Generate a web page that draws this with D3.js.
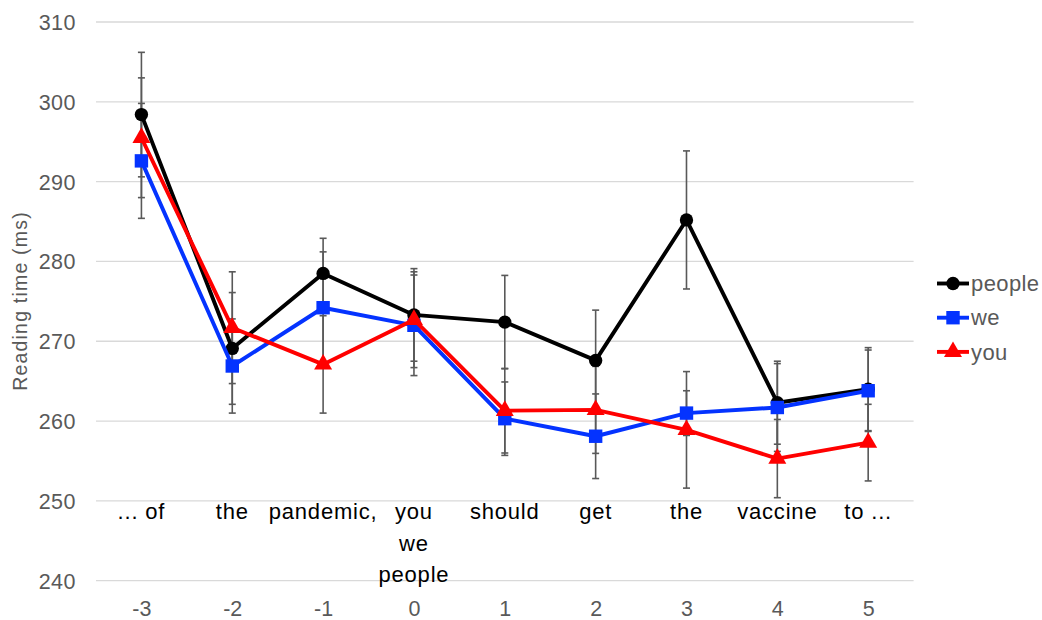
<!DOCTYPE html>
<html>
<head>
<meta charset="utf-8">
<script src="https://cdn.jsdelivr.net/npm/d3@7"></script>
<style>
  html, body { margin: 0; padding: 0; background: #ffffff; }
  svg { display: block; }
</style>
</head>
<body>
<svg id="chart" width="1042" height="620"></svg>
<script>
// ---- data ----
const positions = [-3, -2, -1, 0, 1, 2, 3, 4, 5];
const words = ["... of", "the", "pandemic,", "you", "should", "get", "the", "vaccine", "to ..."];
const extraWords = ["we", "people"]; // stacked under position 0
const seriesNames = ["people", "we", "you"];
const peopleValues = [298.4, 269.1, 278.5, 273.3, 272.4, 267.6, 285.2, 262.3, 264.0];
const weValues     = [292.6, 266.9, 274.2, 272.0, 260.3, 258.1, 261.0, 261.7, 263.8];
const youValues    = [295.5, 271.7, 267.1, 272.7, 261.3, 261.4, 258.9, 255.3, 257.3];
const peopleErrors = [7.8, 7.0, 4.4, 5.8, 5.85, 6.3, 8.65, 5.2, 5.2];
const weErrors     = [7.2, 5.9, 7.0, 6.3, 4.6, 5.3, 2.8, 5.5, 5.1];
const youErrors    = [7.5, 7.0, 6.1, 6.0, 5.3, 5.45, 7.3, 4.9, 4.8];
const yTicks = [240, 250, 260, 270, 280, 290, 300, 310];
const yTitle = "Reading time (ms)";

// ---- layout ----
const svg = d3.select("#chart");
const plot = { left: 96, right: 913.6, top: 22, bottom: 580.7 };
const colors = { people: "#000000", we: "#0433ff", you: "#ff0000" };
const gray = "#595959";
const font = "'Liberation Sans', Arial, sans-serif";

const x = d3.scalePoint().domain(positions).range([plot.left, plot.right]).padding(0.5);
const y = d3.scaleLinear().domain([240, 310]).range([plot.bottom, plot.top]);

// gridlines
svg.append("g").selectAll("line").data(yTicks).join("line")
  .attr("x1", plot.left).attr("x2", plot.right)
  .attr("y1", d => y(d)).attr("y2", d => y(d))
  .attr("stroke", "#d9d9d9").attr("stroke-width", 1.3);

// y axis labels
const yAxis = d3.axisLeft(y).tickValues(yTicks).tickSize(0).tickPadding(0);
const yg = svg.append("g").attr("transform", `translate(${76},0)`).call(yAxis);
yg.select(".domain").remove();
yg.selectAll("text").attr("font-family", font).attr("font-size", 21.5)
  .attr("fill", gray).attr("letter-spacing", 0.5).attr("dy", "0.35em");

// x axis labels (positions)
const xAxis = d3.axisBottom(x).tickSize(0).tickPadding(0);
const xg = svg.append("g").attr("transform", `translate(0,${600})`).call(xAxis);
xg.select(".domain").remove();
xg.selectAll("text").attr("font-family", font).attr("font-size", 21.5)
  .attr("fill", gray).attr("dy", "0.75em");

// y title
svg.append("text")
  .attr("transform", `translate(27,${301}) rotate(-90)`)
  .attr("text-anchor", "middle")
  .attr("font-family", font).attr("font-size", 19.5).attr("letter-spacing", 1.2)
  .attr("fill", gray)
  .text(yTitle);

// word labels
svg.append("g").selectAll("text").data(positions).join("text")
  .attr("x", d => x(d)).attr("y", 519)
  .attr("text-anchor", "middle")
  .attr("font-family", font).attr("font-size", 22).attr("letter-spacing", 0.8)
  .attr("fill", "#000")
  .text((d, i) => words[i]);
svg.append("g").selectAll("text").data(extraWords).join("text")
  .attr("x", x(0)).attr("y", (d, i) => 551 + i * 31)
  .attr("text-anchor", "middle")
  .attr("font-family", font).attr("font-size", 22).attr("letter-spacing", 0.8)
  .attr("fill", "#000")
  .text(d => d);

// series
const series = [
  { name: "people", values: peopleValues, errors: peopleErrors, symbol: d3.symbolCircle, size: 140 },
  { name: "we", values: weValues, errors: weErrors, symbol: d3.symbolSquare, size: 180 },
  { name: "you", values: youValues, errors: youErrors, symbol: d3.symbolTriangle, size: 140 }
];

// error bars
const eg = svg.append("g");
series.forEach(s => {
  positions.forEach((p, i) => {
    const cx = x(p), lo = y(s.values[i] - s.errors[i]), hi = y(s.values[i] + s.errors[i]);
    eg.append("line").attr("x1", cx).attr("x2", cx).attr("y1", lo).attr("y2", hi)
      .attr("stroke", gray).attr("stroke-width", 1.6);
    [lo, hi].forEach(yy => eg.append("line")
      .attr("x1", cx - 3.5).attr("x2", cx + 3.5).attr("y1", yy).attr("y2", yy)
      .attr("stroke", gray).attr("stroke-width", 1.6));
  });
});

// lines + markers
const line = d3.line().x((d, i) => x(positions[i])).y(d => y(d));
series.forEach(s => {
  svg.append("path").datum(s.values)
    .attr("d", line).attr("fill", "none")
    .attr("stroke", colors[s.name]).attr("stroke-width", 3.9)
    .attr("stroke-linejoin", "round");
  svg.append("g").selectAll("path").data(s.values).join("path")
    .attr("d", d3.symbol().type(s.symbol).size(s.size))
    .attr("transform", (d, i) => `translate(${x(positions[i])},${y(d)})`)
    .attr("fill", colors[s.name]);
});

// legend
const lg = svg.append("g");
series.forEach((s, i) => {
  const ly = 283.5 + i * 34.2;
  lg.append("line").attr("x1", 937).attr("x2", 969).attr("y1", ly).attr("y2", ly)
    .attr("stroke", colors[s.name]).attr("stroke-width", 3.9);
  lg.append("path").attr("d", d3.symbol().type(s.symbol).size(s.size))
    .attr("transform", `translate(953,${ly})`).attr("fill", colors[s.name]);
  lg.append("text").attr("x", 971).attr("y", ly).attr("dy", "0.35em")
    .attr("font-family", font).attr("font-size", 22).attr("letter-spacing", 0.4)
    .attr("fill", gray)
    .text(s.name);
});
</script>
</body>
</html>
